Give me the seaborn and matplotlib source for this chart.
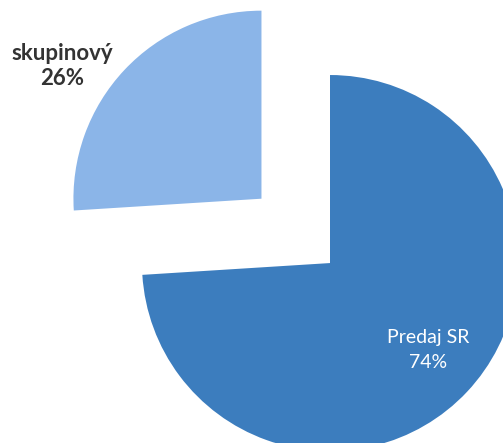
import matplotlib
matplotlib.use("Agg")
import matplotlib.pyplot as plt
import seaborn as sns

sns.set_style("white")
plt.rcParams['font.family'] = ['Lato', 'DejaVu Sans']

# Sales split
categories = ["Predaj SR", "skupinový"]
shares = [74, 26]
colors = ["#3C7DBE", "#8BB5E8"]
explode = [0.0, 0.5]

fig = plt.figure(figsize=(5.03, 4.43), dpi=100)
ax = fig.add_axes([0, 0, 1, 1])

wedges, _ = ax.pie(shares, colors=colors, explode=explode, startangle=90,
                   counterclock=False, radius=1.0,
                   wedgeprops=dict(linewidth=0))

ax.set_xlim(-1.755, 0.920)
ax.set_ylim(-0.957, 1.399)
ax.set_aspect('auto')
ax.axis('off')

# Slice labels
ax.text(0.521, -0.463, f"{categories[0]}\n{shares[0]}%", color="white",
        fontsize=14, ha="center", va="center", linespacing=1.6)
ax.text(-1.426, 1.048, f"{categories[1]}\n{shares[1]}%", color="#333333",
        fontsize=16, fontweight="bold", ha="center", va="center",
        linespacing=1.25)

fig.savefig("out.png", dpi=100)
